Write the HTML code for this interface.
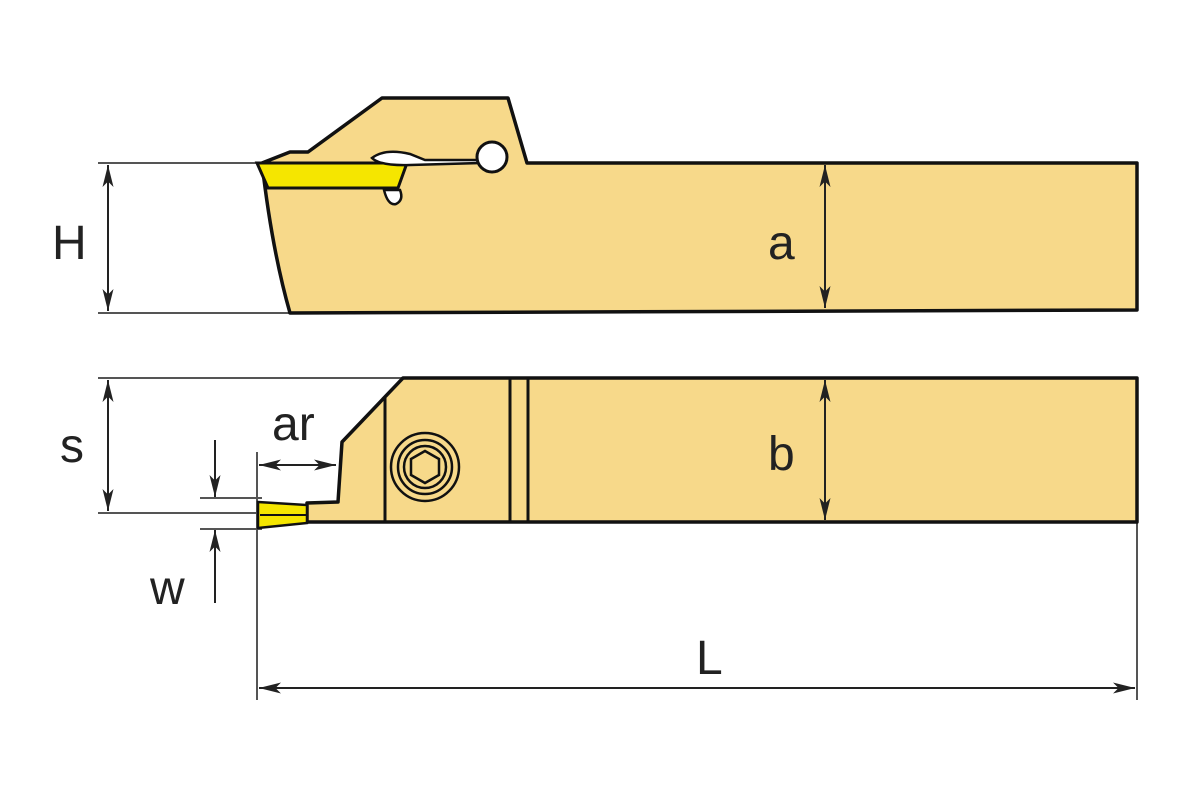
<!DOCTYPE html>
<html><head><style>html,body{margin:0;padding:0;background:#fff}svg{display:block}</style></head>
<body>
<svg width="1200" height="800" viewBox="0 0 1200 800" xmlns="http://www.w3.org/2000/svg">
<defs>
<marker id="ar" viewBox="0 0 20 10" refX="20" refY="5" markerWidth="22" markerHeight="11" markerUnits="userSpaceOnUse" orient="auto-start-reverse" preserveAspectRatio="none">
<path d="M0,0 L20,5 L0,10 L5,5 z" fill="#222"/></marker>
</defs>
<g stroke="#555" stroke-width="2" fill="none">
<line x1="98" y1="163" x2="262" y2="163"/>
<line x1="98" y1="313" x2="292" y2="313"/>
<line x1="98" y1="378" x2="402" y2="378"/>
<line x1="98" y1="513" x2="258" y2="513"/>
<line x1="200" y1="498" x2="262" y2="498"/>
<line x1="200" y1="529" x2="262" y2="529"/>
<line x1="257" y1="452" x2="257" y2="700"/>
<line x1="1137" y1="522" x2="1137" y2="700"/>
</g>
<!-- top view -->
<path d="M262,163 L290,152 L308,152 L382,98 L508,98 L527,163 L1137,163 L1137,310 L290,313 Q272,250 262,163 Z" fill="#f7d98a" stroke="#111" stroke-width="3.5" stroke-linejoin="round"/>
<path d="M257,163 L407,163 L398,188 L268,188 Z" fill="#f5e600" stroke="#111" stroke-width="3"/>
<path d="M372,158 Q385,148 410,154 L425,160 L480,160 L480,163 L410,165 Q380,166 372,158 Z" fill="#fff" stroke="#111" stroke-width="2.5"/>
<circle cx="492" cy="157" r="15" fill="#fff" stroke="#111" stroke-width="3"/>
<path d="M384,190 Q388,206 396,204 Q404,200 400,190 Z" fill="#fff" stroke="#111" stroke-width="2.5"/>
<!-- bottom view -->
<path d="M403,378 L1137,378 L1137,522 L307,522 L307,503 L338,502 L342,442 Z" fill="#f7d98a" stroke="#111" stroke-width="3.5" stroke-linejoin="round"/>
<path d="M258,502 L307,505 L307,523 L258,528 Z" fill="#f5e600" stroke="#111" stroke-width="2.5"/>
<line x1="260" y1="515" x2="306" y2="515" stroke="#111" stroke-width="2"/>
<g stroke="#111" stroke-width="3">
<line x1="385" y1="398" x2="385" y2="522"/>
<line x1="510" y1="378" x2="510" y2="522"/>
<line x1="528" y1="378" x2="528" y2="522"/>
</g>
<g fill="none" stroke="#111" stroke-width="2.5">
<circle cx="425" cy="467" r="34"/>
<circle cx="425" cy="467" r="27"/>
<circle cx="425" cy="467" r="21"/>
<polygon points="425,451 439,459 439,475 425,483 411,475 411,459"/>
</g>
<!-- dimensions -->
<g stroke="#222" stroke-width="2">
<line x1="108" y1="165" x2="108" y2="311" marker-start="url(#ar)" marker-end="url(#ar)"/>
<line x1="108" y1="380" x2="108" y2="511" marker-start="url(#ar)" marker-end="url(#ar)"/>
<line x1="825" y1="165" x2="825" y2="308" marker-start="url(#ar)" marker-end="url(#ar)"/>
<line x1="825" y1="380" x2="825" y2="520" marker-start="url(#ar)" marker-end="url(#ar)"/>
<line x1="259" y1="465" x2="336" y2="465" marker-start="url(#ar)" marker-end="url(#ar)"/>
<line x1="259" y1="688" x2="1135" y2="688" marker-start="url(#ar)" marker-end="url(#ar)"/>
<line x1="215" y1="440" x2="215" y2="497" marker-end="url(#ar)"/>
<line x1="215" y1="603" x2="215" y2="530" marker-end="url(#ar)"/>
</g>
<g font-family="Liberation Sans, sans-serif" font-size="48" fill="#222">
<text x="52" y="259">H</text>
<text x="768" y="259">a</text>
<text x="60" y="462">s</text>
<text x="768" y="470">b</text>
<text x="272" y="440">ar</text>
<text x="150" y="604">w</text>
<text x="696" y="674">L</text>
</g>
</svg>
</body></html>
